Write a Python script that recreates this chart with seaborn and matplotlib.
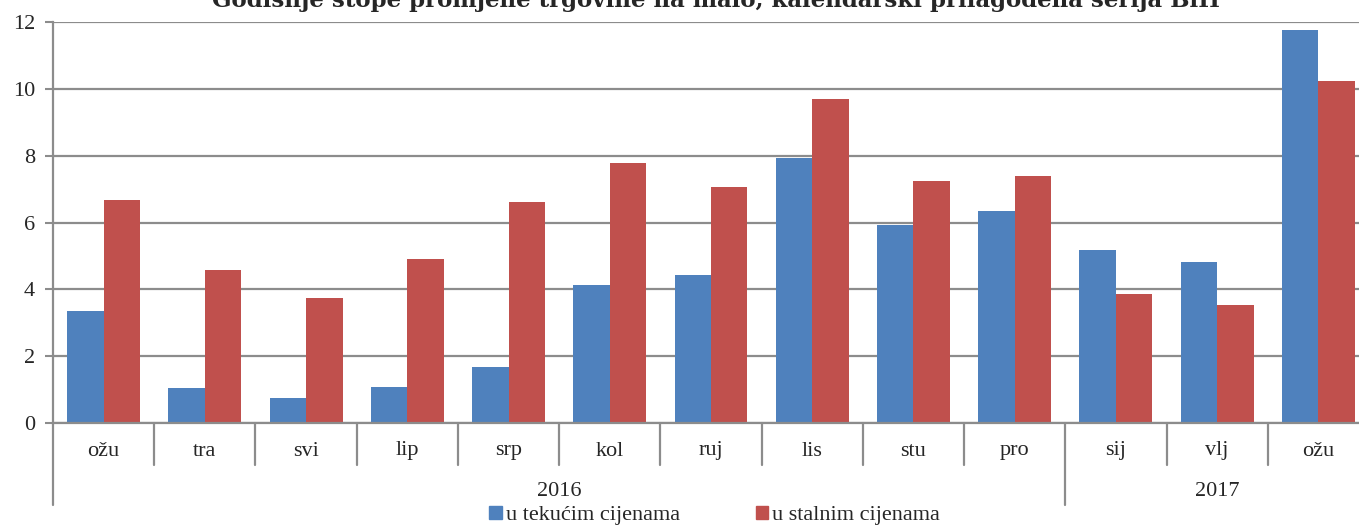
import numpy as np
import pandas as pd
import matplotlib
matplotlib.use("Agg")
import matplotlib.pyplot as plt
import matplotlib.transforms as mtransforms
import seaborn as sns

# Values
months = ["ožu", "tra", "svi", "lip", "srp", "kol", "ruj", "lis", "stu", "pro", "sij", "vlj", "ožu"]
years = ["2016"] * 10 + ["2017"] * 3
tekuce = [3.35, 1.05, 0.75, 1.08, 1.68, 4.13, 4.43, 7.93, 5.92, 6.34, 5.18, 4.82, 11.76]
stalne = [6.67, 4.58, 3.74, 4.91, 6.61, 7.78, 7.06, 9.69, 7.24, 7.39, 3.86, 3.53, 10.23]
series_names = ["u tekućim cijenama", "u stalnim cijenama"]
title = "Godišnje stope promjene trgovine na malo, kalendarski prilagođena serija BiH"

keys = [f"{y}-{m}-{i}" for i, (y, m) in enumerate(zip(years, months))]
df = pd.DataFrame({
    "key": keys * 2,
    "value": tekuce + stalne,
    "serija": [series_names[0]] * len(keys) + [series_names[1]] * len(keys),
})

sns.set_style("white")
plt.rcParams["font.family"] = ["Liberation Serif", "DejaVu Serif"]

fig = plt.figure(figsize=(13.59, 5.25), dpi=100)
# axes runs a little past the right edge, as in the reference
ax = fig.add_axes([53 / 1359, 1 - 423 / 525, (1369 - 53) / 1359, (423 - 22) / 525])

sns.barplot(data=df, x="key", y="value", hue="serija", order=keys,
            palette=["#4F81BD", "#C0504D"], width=0.72, gap=0, ax=ax,
            edgecolor="none", saturation=1, legend=False)

ax.set_ylim(0, 12)
ax.set_xlim(-0.5, len(keys) - 0.5)
ax.set_yticks(np.arange(0, 13, 2))
ax.yaxis.grid(True, color="#8C8C8C", linewidth=1.6)
ax.set_axisbelow(True)
ax.set_xlabel("")
ax.set_ylabel("")
ax.set_xticks([])
ax.tick_params(axis="y", labelsize=16, length=6, width=1.5, color="#8C8C8C",
               left=True, pad=7)
for s in ["top", "right"]:
    ax.spines[s].set_visible(False)
for s in ["left", "bottom"]:
    ax.spines[s].set_color("#8C8C8C")
    ax.spines[s].set_linewidth(1.6)

# multi-level category axis
trans = mtransforms.blended_transform_factory(ax.transData, ax.transAxes)
px = 1 / (423 - 22)
n = len(keys)
for i in range(n + 1):
    b = i - 0.5
    is_year_edge = i == 0 or i == n or years[i] != years[i - 1]
    depth = -82 * px if is_year_edge else -42 * px
    ax.plot([b, b], [0, depth], transform=trans, color="#8C8C8C", lw=1.6, clip_on=False)
for i, m in enumerate(months):
    ax.text(i, -28 * px, m, transform=trans, ha="center", va="center", fontsize=16)
for y in dict.fromkeys(years):
    idx = [i for i, yy in enumerate(years) if yy == y]
    ax.text((idx[0] + idx[-1]) / 2, -69 * px, y, transform=trans,
            ha="center", va="center", fontsize=16)

handles = [plt.Rectangle((0, 0), 1, 1, color=c) for c in ["#4F81BD", "#C0504D"]]
fig.legend(handles, series_names, loc="lower center", bbox_to_anchor=(0.526, -0.022),
           ncol=2, frameon=False, fontsize=16, handlelength=0.55, handleheight=0.55,
           handletextpad=0.2, columnspacing=3.4, borderpad=0)

fig.text(0.527, 1 - 7 / 525, title, ha="center", va="baseline",
         fontsize=16.5, fontweight="bold", family=["DejaVu Serif"])

fig.savefig("out.png", dpi=100)
